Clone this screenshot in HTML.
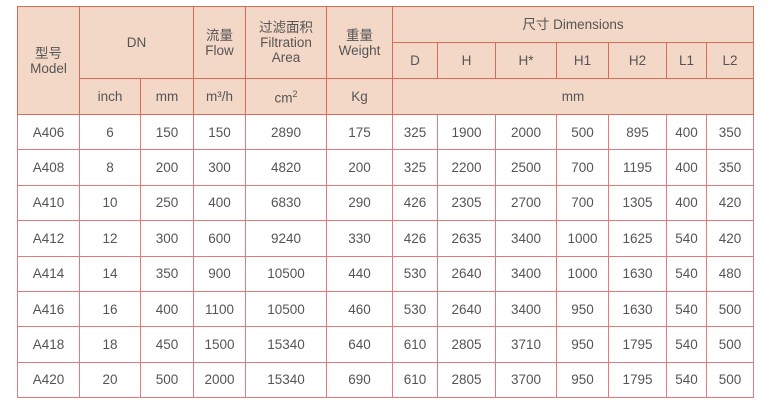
<!DOCTYPE html>
<html><head><meta charset="utf-8"><style>
body{margin:0;width:775px;height:410px;background:#fff;position:relative;overflow:hidden}
table{position:absolute;left:17px;top:6px;border-collapse:collapse;table-layout:fixed;font-family:"Liberation Sans","Noto Sans CJK SC",sans-serif;font-size:13.5px;color:#555}
td{border:1px solid #e27a7a;text-align:center;padding:0;line-height:15px}
.h td{background:#f3d8c8;border-color:#dd6a55}
.h2 td{height:35px}
tr.d td{height:34.4px}
</style></head><body>
<table>
<colgroup><col style="width:62px"><col style="width:61px"><col style="width:53px"><col style="width:52px"><col style="width:81px"><col style="width:66px"><col style="width:45px"><col style="width:58px"><col style="width:61px"><col style="width:52px"><col style="width:58px"><col style="width:40px"><col style="width:47px"></colgroup>
<tr class="h"><td rowspan="3">型号<br>Model</td><td colspan="2" rowspan="2">DN</td><td rowspan="2">流量<br>Flow</td><td rowspan="2">过滤面积<br>Filtration<br>Area</td><td rowspan="2">重量<br>Weight</td><td colspan="7" style="height:35px">尺寸 Dimensions</td></tr>
<tr class="h h2"><td>D</td><td>H</td><td>H*</td><td>H1</td><td>H2</td><td>L1</td><td>L2</td></tr>
<tr class="h h2"><td>inch</td><td>mm</td><td>m³/h</td><td>cm<sup style="font-size:9px">2</sup></td><td>Kg</td><td colspan="7">mm</td></tr>
<tr class="d"><td>A406</td><td>6</td><td>150</td><td>150</td><td>2890</td><td>175</td><td>325</td><td>1900</td><td>2000</td><td>500</td><td>895</td><td>400</td><td>350</td></tr>
<tr class="d"><td>A408</td><td>8</td><td>200</td><td>300</td><td>4820</td><td>200</td><td>325</td><td>2200</td><td>2500</td><td>700</td><td>1195</td><td>400</td><td>350</td></tr>
<tr class="d"><td>A410</td><td>10</td><td>250</td><td>400</td><td>6830</td><td>290</td><td>426</td><td>2305</td><td>2700</td><td>700</td><td>1305</td><td>400</td><td>420</td></tr>
<tr class="d"><td>A412</td><td>12</td><td>300</td><td>600</td><td>9240</td><td>330</td><td>426</td><td>2635</td><td>3400</td><td>1000</td><td>1625</td><td>540</td><td>420</td></tr>
<tr class="d"><td>A414</td><td>14</td><td>350</td><td>900</td><td>10500</td><td>440</td><td>530</td><td>2640</td><td>3400</td><td>1000</td><td>1630</td><td>540</td><td>480</td></tr>
<tr class="d"><td>A416</td><td>16</td><td>400</td><td>1100</td><td>10500</td><td>460</td><td>530</td><td>2640</td><td>3400</td><td>950</td><td>1630</td><td>540</td><td>500</td></tr>
<tr class="d"><td>A418</td><td>18</td><td>450</td><td>1500</td><td>15340</td><td>640</td><td>610</td><td>2805</td><td>3710</td><td>950</td><td>1795</td><td>540</td><td>500</td></tr>
<tr class="d"><td>A420</td><td>20</td><td>500</td><td>2000</td><td>15340</td><td>690</td><td>610</td><td>2805</td><td>3700</td><td>950</td><td>1795</td><td>540</td><td>500</td></tr>
</table>
</body></html>
